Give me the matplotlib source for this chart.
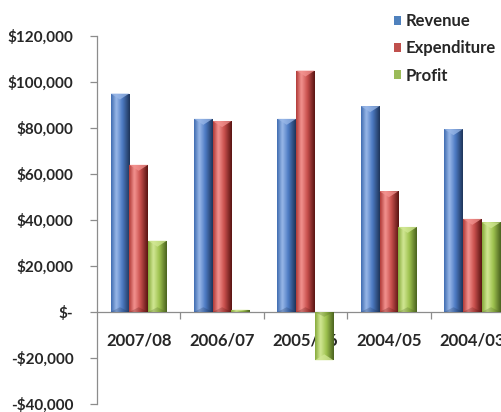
import numpy as np
import matplotlib
matplotlib.use("Agg")
import matplotlib.pyplot as plt
from matplotlib.colors import LinearSegmentedColormap
from matplotlib.patches import Polygon, Patch
from matplotlib.ticker import FuncFormatter, FixedLocator

categories = ["2007/08", "2006/07", "2005/06", "2004/05", "2004/03"]
revenue = [95000, 84000, 84000, 89500, 79500]
expenditure = [64000, 83000, 105000, 52500, 40500]
profit = [31000, 1000, -21000, 37000, 39000]
series_names = ["Revenue", "Expenditure", "Profit"]
y_ticks = [-40000, -20000, 0, 20000, 40000, 60000, 80000, 100000, 120000]

plt.rcParams['font.family'] = ['Lato', 'DejaVu Sans']
plt.rcParams['font.weight'] = 'bold'

palettes = [
    ["#3F6CB0", "#9AB8E8", "#4D7BC4", "#1E3459"],
    ["#B03A37", "#F39390", "#C9504D", "#581412"],
    ["#86AA3A", "#D2E895", "#9EC24F", "#4A621E"],
]
legend_colors = ["#4F81BD", "#C0504D", "#9BBB59"]

fig = plt.figure(figsize=(5.02, 4.12), dpi=100)
ax = fig.add_axes([97/502, 8/412, 417/502, 368/412])
ax.spines['bottom'].set_position(('data', 0))

x = np.arange(len(categories))
w = 0.225
offsets = [-w, 0, w]
data = [revenue, expenditure, profit]

grad = np.linspace(0, 1, 64).reshape(1, -1)
for vals, off, pal in zip(data, offsets, palettes):
    cmap = LinearSegmentedColormap.from_list(
        "g", [(0, pal[0]), (0.28, pal[1]), (0.6, pal[2]), (1, pal[3])])
    bars = ax.bar(x + off, vals, width=w, color=pal[2], zorder=2, linewidth=0)
    for b in bars:
        bx, by = b.get_x(), b.get_y()
        bw, bh = b.get_width(), b.get_height()
        im = ax.imshow(grad, extent=[bx, bx + bw, by, by + bh], aspect='auto',
                       cmap=cmap, interpolation='bicubic', zorder=3)
        im.set_clip_path(b)
        top = by + bh
        sign = 1 if bh >= 0 else -1
        bev = min(2600, abs(bh) / 2)
        tri = Polygon([(bx, top), (bx + bw, top), (bx + bw / 2, top - sign * bev)],
                      closed=True, facecolor=pal[1], alpha=0.75, linewidth=0, zorder=4)
        ax.add_patch(tri)
        base = by
        tri2 = Polygon([(bx, base), (bx + bw, base), (bx + bw / 2, base + sign * bev * 0.8)],
                       closed=True, facecolor=pal[3], alpha=0.25, linewidth=0, zorder=4)
        ax.add_patch(tri2)

ax.set_xlim(-0.5, len(categories) - 0.5)
ax.set_ylim(-40000, 120000)

ax.set_yticks(y_ticks)
def fmt(v, pos):
    if v == 0:
        return "$-"
    s = "${:,.0f}".format(abs(v))
    return "-" + s if v < 0 else s
ax.yaxis.set_major_formatter(FuncFormatter(fmt))

ax.set_xticks(x)
ax.set_xticklabels(categories)
ax.xaxis.set_minor_locator(FixedLocator(np.arange(0.5, len(categories), 1.0)))
ax.tick_params(axis='x', which='major', length=0, pad=15, labelsize=12, labelcolor="#262626")
ax.tick_params(axis='x', which='minor', length=5, width=0.9, color="#8C8C8C", direction='out')
ax.tick_params(axis='y', length=5, width=0.9, color="#8C8C8C", pad=12, direction='out',
               labelsize=11, labelcolor="#262626")

for s in ['top', 'right']:
    ax.spines[s].set_visible(False)
for s in ['left', 'bottom']:
    ax.spines[s].set_color("#8C8C8C")
    ax.spines[s].set_linewidth(0.9)

handles = [Patch(facecolor=c, edgecolor='none') for c in legend_colors]
leg = fig.legend(handles, series_names, loc='upper left',
                 bbox_to_anchor=(379/502, 1 + 2/412), frameon=False,
                 handlelength=0.45, handleheight=0.45, handletextpad=0.25,
                 labelspacing=0.68, prop={'size': 12, 'weight': 'bold'})
for t in leg.get_texts():
    t.set_color("#262626")

fig.savefig("out.png", dpi=100)
